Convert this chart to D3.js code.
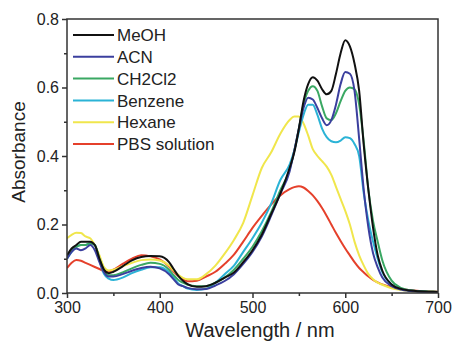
<!DOCTYPE html>
<html><head><meta charset="utf-8">
<script src="https://cdn.jsdelivr.net/npm/d3@7"></script>
<style>body{margin:0;background:#fff}svg{display:block;font-family:"Liberation Sans",Arial,sans-serif}</style>
</head><body><svg id="c" width="453" height="341"></svg>
<script>
const wavelengths=[300,305,310,315,320,325,330,335,340,345,350,360,370,380,390,400,410,415,420,425,430,440,450,460,470,480,490,500,510,520,530,540,545,550,555,560,565,570,575,580,585,590,595,600,605,610,615,620,625,630,635,640,650,660,670,680,690,700];
const seriesNames=["MeOH","ACN","CH2Cl2","Benzene","Hexane","PBS solution"];
const seriesColors=["#111111","#3b3f9e","#3aa863","#2bb3d6","#f0e64c","#e5402b"];
const meoh=[0.11,0.13,0.14,0.15,0.15,0.15,0.14,0.10,0.068,0.058,0.062,0.078,0.095,0.105,0.108,0.107,0.09,0.07,0.05,0.036,0.026,0.018,0.02,0.03,0.045,0.06,0.09,0.125,0.17,0.23,0.29,0.365,0.41,0.48,0.56,0.61,0.63,0.62,0.595,0.58,0.59,0.64,0.70,0.738,0.72,0.67,0.59,0.43,0.30,0.19,0.11,0.065,0.025,0.012,0.007,0.005,0.004,0.003];
const acn=[0.10,0.12,0.13,0.125,0.13,0.14,0.125,0.09,0.06,0.048,0.048,0.055,0.065,0.073,0.077,0.072,0.055,0.04,0.025,0.02,0.015,0.011,0.012,0.022,0.035,0.055,0.085,0.12,0.165,0.225,0.29,0.355,0.415,0.48,0.54,0.57,0.565,0.54,0.51,0.49,0.505,0.55,0.61,0.645,0.64,0.59,0.45,0.30,0.19,0.116,0.075,0.045,0.02,0.01,0.006,0.004,0.003,0.003];
const ch2cl2=[0.105,0.125,0.135,0.14,0.14,0.145,0.14,0.10,0.065,0.052,0.052,0.06,0.072,0.082,0.088,0.085,0.068,0.052,0.038,0.03,0.024,0.02,0.02,0.03,0.045,0.068,0.10,0.135,0.18,0.235,0.30,0.36,0.415,0.48,0.55,0.59,0.604,0.59,0.545,0.51,0.505,0.525,0.56,0.59,0.60,0.595,0.55,0.44,0.30,0.21,0.15,0.095,0.036,0.015,0.008,0.005,0.004,0.003];
const benzene=[0.10,0.12,0.135,0.14,0.14,0.145,0.14,0.095,0.055,0.042,0.038,0.045,0.058,0.068,0.075,0.075,0.06,0.045,0.028,0.02,0.013,0.009,0.012,0.03,0.055,0.08,0.12,0.16,0.205,0.26,0.33,0.375,0.415,0.47,0.52,0.55,0.55,0.52,0.48,0.455,0.443,0.44,0.445,0.455,0.452,0.435,0.40,0.29,0.21,0.15,0.10,0.06,0.025,0.012,0.007,0.005,0.004,0.003];
const hexane=[0.16,0.17,0.176,0.175,0.165,0.16,0.14,0.11,0.075,0.066,0.068,0.078,0.088,0.096,0.098,0.095,0.08,0.066,0.053,0.044,0.04,0.04,0.055,0.08,0.115,0.155,0.205,0.285,0.365,0.41,0.465,0.505,0.515,0.515,0.495,0.46,0.42,0.40,0.385,0.369,0.345,0.31,0.275,0.24,0.20,0.15,0.11,0.08,0.055,0.04,0.03,0.024,0.014,0.009,0.006,0.005,0.004,0.003];
const pbs=[0.073,0.088,0.096,0.094,0.088,0.082,0.076,0.07,0.064,0.063,0.068,0.085,0.10,0.11,0.107,0.098,0.077,0.062,0.05,0.04,0.034,0.036,0.048,0.062,0.085,0.112,0.15,0.19,0.225,0.258,0.285,0.303,0.309,0.312,0.308,0.298,0.285,0.268,0.248,0.225,0.2,0.175,0.152,0.13,0.11,0.09,0.073,0.06,0.048,0.038,0.031,0.025,0.017,0.012,0.008,0.006,0.005,0.004];
const seriesValues=[meoh,acn,ch2cl2,benzene,hexane,pbs];
const xTicks=[300,400,500,600,700];
const xMinor=[350,450,550,650];
const yTicks=[0.0,0.2,0.4,0.6,0.8];
const yMinor=[0.1,0.3,0.5,0.7];

const svg=d3.select("#c");
const m={l:67,r:15,t:19,b:48};
const W=453,H=341;
const x=d3.scaleLinear().domain([300,700]).range([m.l,W-m.r]);
const y=d3.scaleLinear().domain([0,0.8]).range([H-m.b,m.t]);

svg.append("defs").append("clipPath").attr("id","clip").append("rect")
  .attr("x",m.l).attr("y",m.t).attr("width",W-m.l-m.r).attr("height",H-m.t-m.b);

const line=d3.line().x((d,i)=>x(wavelengths[i])).y(d=>y(d)).curve(d3.curveMonotoneX);
const g=svg.append("g").attr("clip-path","url(#clip)");
const order=[5,4,3,2,1,0];
order.forEach(i=>{
  g.append("path").datum(seriesValues[i]).attr("d",line)
   .attr("fill","none").attr("stroke",seriesColors[i]).attr("stroke-width",2);
});

svg.append("rect").attr("x",m.l).attr("y",m.t).attr("width",W-m.l-m.r).attr("height",H-m.t-m.b)
  .attr("fill","none").attr("stroke","#333").attr("stroke-width",1.5);

const xAxis=svg.append("g").attr("transform",`translate(0,${H-m.b})`)
  .call(d3.axisBottom(x).tickValues(xTicks).tickSize(5).tickPadding(4).tickFormat(d3.format("d")));
const xMin=svg.append("g").attr("transform",`translate(0,${H-m.b})`)
  .call(d3.axisBottom(x).tickValues(xMinor).tickSize(3).tickFormat(""));
const yAxis=svg.append("g").attr("transform",`translate(${m.l},0)`)
  .call(d3.axisLeft(y).tickValues(yTicks).tickSize(5).tickPadding(3).tickFormat(d3.format(".1f")));
const yMin=svg.append("g").attr("transform",`translate(${m.l},0)`)
  .call(d3.axisLeft(y).tickValues(yMinor).tickSize(3).tickFormat(""));
[xAxis,xMin,yAxis,yMin].forEach(a=>{
  a.select(".domain").remove();
  a.selectAll(".tick line").attr("stroke","#333").attr("stroke-width",1.5);
  a.selectAll("text").attr("font-size",16).attr("fill","#222").attr("font-family","Liberation Sans, Arial, sans-serif");
});

svg.append("text").attr("x",260).attr("y",337).attr("text-anchor","middle")
  .attr("font-size",20).attr("fill","#222").text("Wavelength / nm");
svg.append("text").attr("transform","translate(25,152) rotate(-90)").attr("text-anchor","middle")
  .attr("font-size",19).attr("fill","#222").text("Absorbance");

seriesNames.forEach((n,i)=>{
  const yy=35+i*21.8;
  svg.append("line").attr("x1",73).attr("x2",114).attr("y1",yy).attr("y2",yy)
    .attr("stroke",seriesColors[i]).attr("stroke-width",2);
  svg.append("text").attr("x",117).attr("y",yy).attr("dy","0.36em")
    .attr("font-size",17).attr("fill","#222").text(n);
});
</script></body></html>
